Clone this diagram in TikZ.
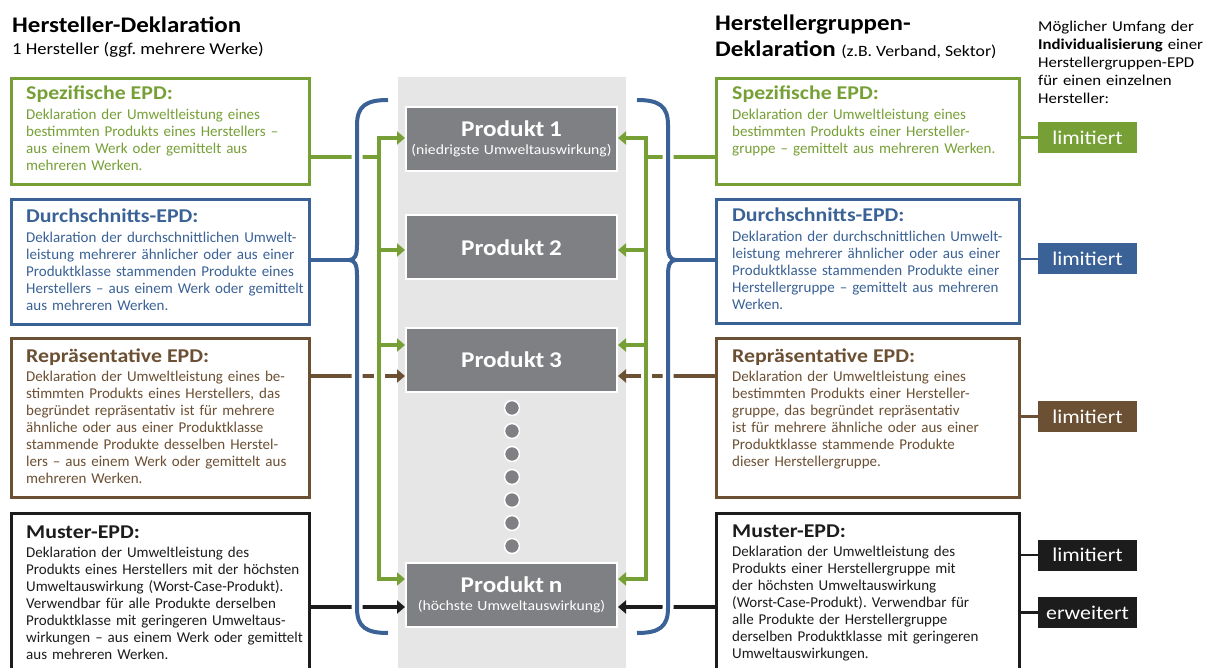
\documentclass[tikz,border=0pt]{standalone}
\usepackage{fontspec}
\setmainfont{Carlito}
\newfontfamily\wideC{Carlito}[FakeStretch=1.12]
\usetikzlibrary{arrows.meta}
\definecolor{cgreen}{RGB}{118,160,54}
\definecolor{cblue}{RGB}{58,98,150}
\definecolor{cbrown}{RGB}{108,80,51}
\definecolor{cblack}{RGB}{28,28,28}
\definecolor{cprod}{RGB}{127,128,131}
\definecolor{cbg}{RGB}{230,230,230}
\newcommand\epdtitle[1]{{\wideC\fontsize{19.5}{20}\selectfont\bfseries #1}}
\frenchspacing
\begin{document}
\frenchspacing
\begin{tikzpicture}[x=1pt,y=-1pt,
 epdbox/.style={draw=#1, line width=3pt, fill=white, inner sep=0pt, anchor=north west},
 epdtext/.style={text=#1, anchor=base west, inner sep=0pt, text width=300pt, align=left, font=\fontsize{15}{17}\selectfont},
 prod/.style={fill=cprod, draw=white, line width=2pt, minimum width=211pt, minimum height=64pt, inner sep=0pt, text=white, text width=211pt, align=center, font=\wideC\fontsize{14}{18}\selectfont},
 pdot/.style={circle, fill=cprod, draw=white, line width=1.5pt, minimum size=15pt, inner sep=0pt},
 conn/.style={line width=4pt, draw=#1},
 arrowend/.style={-{Triangle[length=8pt,width=13pt]}},
 halo/.style={preaction={draw=white, line width=11pt}},
 lab/.style={fill=#1, text=white, minimum width=99pt, minimum height=31pt, inner sep=0pt, font=\wideC\fontsize{19.5}{20}\selectfont},
 labline/.style={draw=#1, line width=2.5pt},
 headbold/.style={anchor=base west, inner sep=0pt, font=\wideC\fontsize{22.3}{26}\selectfont\bfseries},
]
\useasboundingbox (0,0) rectangle (1207,668);

% titles
\node[headbold] (T1) at (12,33) {Hersteller-Deklaration};
\node[anchor=base west, inner sep=0pt, font=\wideC\fontsize{16.6}{18}\selectfont] (T1s) at (12,55) {1 Hersteller (ggf. mehrere Werke)};
\node[headbold] (T2a) at (715,31) {Herstellergruppen-};
\node[headbold] (T2b) at (715,57) {Deklaration};
\node[anchor=base west, inner sep=0pt, xshift=5pt, font=\wideC\fontsize{15.8}{18}\selectfont] (T2c) at (T2b.base east) {(z.B. Verband, Sektor)};
\node[anchor=base west, inner sep=0pt, text width=175pt, align=left, font=\wideC\fontsize{15}{18}\selectfont] (T3) at (1038,32) {Möglicher Umfang der\\\textbf{Individualisierung} einer\\Herstellergruppen-EPD\\für einen einzelnen\\Hersteller:};

% centre column
\node[fill=cbg, minimum width=228pt, minimum height=600pt, inner sep=0pt, anchor=north west] (col) at (398,77) {};
\node[prod] (P1) at (511.5,139) {{\fontsize{22.5}{18}\selectfont\bfseries Produkt 1}\\(niedrigste Umweltauswirkung)};
\node[prod] (P2) at (511.5,247.5) {{\fontsize{22.5}{18}\selectfont\bfseries Produkt 2}};
\node[prod] (P3) at (511.5,360) {{\fontsize{22.5}{18}\selectfont\bfseries Produkt 3}};
\node[prod] (Pn) at (511.5,594.5) {{\fontsize{22.5}{18}\selectfont\bfseries Produkt n}\\(höchste Umweltauswirkung)};
\foreach \i/\y in {1/408,2/431,3/454,4/477,5/500,6/523,7/546}
  \node[pdot] (d\i) at (512,\y) {};

% left boxes
\node[epdbox=cgreen, minimum width=298pt, minimum height=106pt] (LS) at (10,77) {};
\node[epdbox=cblue, minimum width=298pt, minimum height=125pt] (LD) at (10,198) {};
\node[epdbox=cbrown, minimum width=298pt, minimum height=159pt] (LR) at (10,337) {};
\node[epdbox=cblack, minimum width=298pt, minimum height=190pt] (LM) at (10,512) {};
\node[epdtext=cgreen] (LStx) at (26,100) {\epdtitle{Spezifische EPD:}\\[2.5pt]Deklaration der Umweltleistung eines\\bestimmten Produkts eines Herstellers –\\aus einem Werk oder gemittelt aus\\mehreren Werken.};
\node[epdtext=cblue] (LDtx) at (26,223) {\epdtitle{Durchschnitts-EPD:}\\[2.5pt]Deklaration der durchschnittlichen Umwelt-\\leistung mehrerer ähnlicher oder aus einer\\Produktklasse stammenden Produkte eines\\Herstellers – aus einem Werk oder gemittelt\\aus mehreren Werken.};
\node[epdtext=cbrown] (LRtx) at (26,362) {\epdtitle{Repräsentative EPD:}\\[2.5pt]Deklaration der Umweltleistung eines be-\\stimmten Produkts eines Herstellers, das\\begründet repräsentativ ist für mehrere\\ähnliche oder aus einer Produktklasse\\stammende Produkte desselben Herstel-\\lers – aus einem Werk oder gemittelt aus\\mehreren Werken.};
\node[epdtext=cblack] (LMtx) at (26,538) {\epdtitle{Muster-EPD:}\\[2.5pt]Deklaration der Umweltleistung des\\Produkts eines Herstellers mit der höchsten\\Umweltauswirkung (Worst-Case-Produkt).\\Verwendbar für alle Produkte derselben\\Produktklasse mit geringeren Umweltaus-\\wirkungen – aus einem Werk oder gemittelt\\aus mehreren Werken.};

% right boxes
\node[epdbox=cgreen, minimum width=303pt, minimum height=106pt] (RS) at (715,77) {};
\node[epdbox=cblue, minimum width=303pt, minimum height=124pt] (RD) at (715,198) {};
\node[epdbox=cbrown, minimum width=303pt, minimum height=159pt] (RR) at (715,337) {};
\node[epdbox=cblack, minimum width=303pt, minimum height=190pt] (RM) at (715,512) {};
\node[epdtext=cgreen] (RStx) at (732,100) {\epdtitle{Spezifische EPD:}\\[2.5pt]Deklaration der Umweltleistung eines\\bestimmten Produkts einer Hersteller-\\gruppe – gemittelt aus mehreren Werken.};
\node[epdtext=cblue] (RDtx) at (732,222) {\epdtitle{Durchschnitts-EPD:}\\[2.5pt]Deklaration der durchschnittlichen Umwelt-\\leistung mehrerer ähnlicher oder aus einer\\Produktklasse stammenden Produkte einer\\Herstellergruppe – gemittelt aus mehreren\\Werken.};
\node[epdtext=cbrown] (RRtx) at (732,362) {\epdtitle{Repräsentative EPD:}\\[2.5pt]Deklaration der Umweltleistung eines\\bestimmten Produkts einer Hersteller-\\gruppe, das begründet repräsentativ\\ist für mehrere ähnliche oder aus einer\\Produktklasse stammende Produkte\\dieser Herstellergruppe.};
\node[epdtext=cblack] (RMtx) at (732,537) {\epdtitle{Muster-EPD:}\\[2.5pt]Deklaration der Umweltleistung des\\Produkts einer Herstellergruppe mit\\der höchsten Umweltauswirkung\\(Worst-Case-Produkt). Verwendbar für\\alle Produkte der Herstellergruppe\\derselben Produktklasse mit geringeren\\Umweltauswirkungen.};

% labels
\node[lab=cgreen] (K1) at (1087.5,137.5) {limitiert};
\node[lab=cblue] (K2) at (1087.5,259) {limitiert};
\node[lab=cbrown] (K3) at (1087.5,416.5) {limitiert};
\node[lab=cblack] (K4) at (1087.5,555) {limitiert};
\node[lab=cblack] (K5) at (1087.5,612.5) {erweitert};
\draw[labline=cgreen] (K1 -| RS.east) -- (K1.west);
\draw[labline=cblue] (K2 -| RD.east) -- (K2.west);
\draw[labline=cbrown] (K3 -| RR.east) -- (K3.west);
\draw[labline=cblack] (K4 -| RM.east) -- (K4.west);
\draw[labline=cblack] (K5 -| RM.east) -- (K5.west);

% coordinates
\coordinate (gL1) at (379,138);
\coordinate (gL2) at (379,250);
\coordinate (gL3) at (379,345);
\coordinate (gLn) at (379,579);
\coordinate (gLin) at (379,157);
\coordinate (gR1) at (646,138);
\coordinate (gR2) at (646,250);
\coordinate (gR3) at (646,345);
\coordinate (gRn) at (646,579);
\coordinate (gRin) at (646,157);
\coordinate (yBr) at (512,376);
\coordinate (yBk) at (512,607);
\coordinate (bLtip) at (349,260);
\coordinate (bRtip) at (676,260);

% brown and black connectors
\draw[conn=cbrown, arrowend] (yBr -| LR.east) -- (yBr -| P3.west);
\draw[conn=cbrown, arrowend] (yBr -| RR.west) -- (yBr -| P3.east);
\draw[conn=cblack, arrowend] (yBk -| LM.east) -- (yBk -| Pn.west);
\draw[conn=cblack, arrowend] (yBk -| RM.west) -- (yBk -| Pn.east);

% green
\draw[white, line width=11pt] (gL1) -- (gLn);
\draw[white, line width=11pt] (gR1) -- (gRn);
\draw[conn=cgreen, arrowend] (gLn) -- (gL1) -- (gL1 -| P1.west);
\draw[conn=cgreen, arrowend] (gL1) -- (gLn) -- (gLn -| Pn.west);
\draw[conn=cgreen, arrowend] (gL2) -- (gL2 -| P2.west);
\draw[conn=cgreen, arrowend] (gL3) -- (gL3 -| P3.west);
\draw[conn=cgreen] (gLin -| LS.east) -- (gLin);
\draw[conn=cgreen, arrowend] (gRn) -- (gR1) -- (gR1 -| P1.east);
\draw[conn=cgreen, arrowend] (gR1) -- (gRn) -- (gRn -| Pn.east);
\draw[conn=cgreen, arrowend] (gR2) -- (gR2 -| P2.east);
\draw[conn=cgreen, arrowend] (gR3) -- (gR3 -| P3.east);
\draw[conn=cgreen] (gRin -| RS.west) -- (gRin);

% blue braces
\draw[conn=cblue, halo] (388,100) .. controls (366,100) and (357,106) .. (357,125) -- (357,245) .. controls (357,255) and (355,260) .. (bLtip) .. controls (355,260) and (357,265) .. (357,275) -- (357,608) .. controls (357,627) and (366,633) .. (388,633);
\draw[conn=cblue, halo] (637,100) .. controls (659,100) and (668,106) .. (668,125) -- (668,245) .. controls (668,255) and (670,260) .. (bRtip) .. controls (670,260) and (668,265) .. (668,275) -- (668,608) .. controls (668,627) and (659,633) .. (637,633);
\draw[conn=cblue] (bLtip -| LD.east) -- (bLtip);
\draw[conn=cblue] (bRtip -| RD.west) -- (bRtip);
\end{tikzpicture}
\end{document}
